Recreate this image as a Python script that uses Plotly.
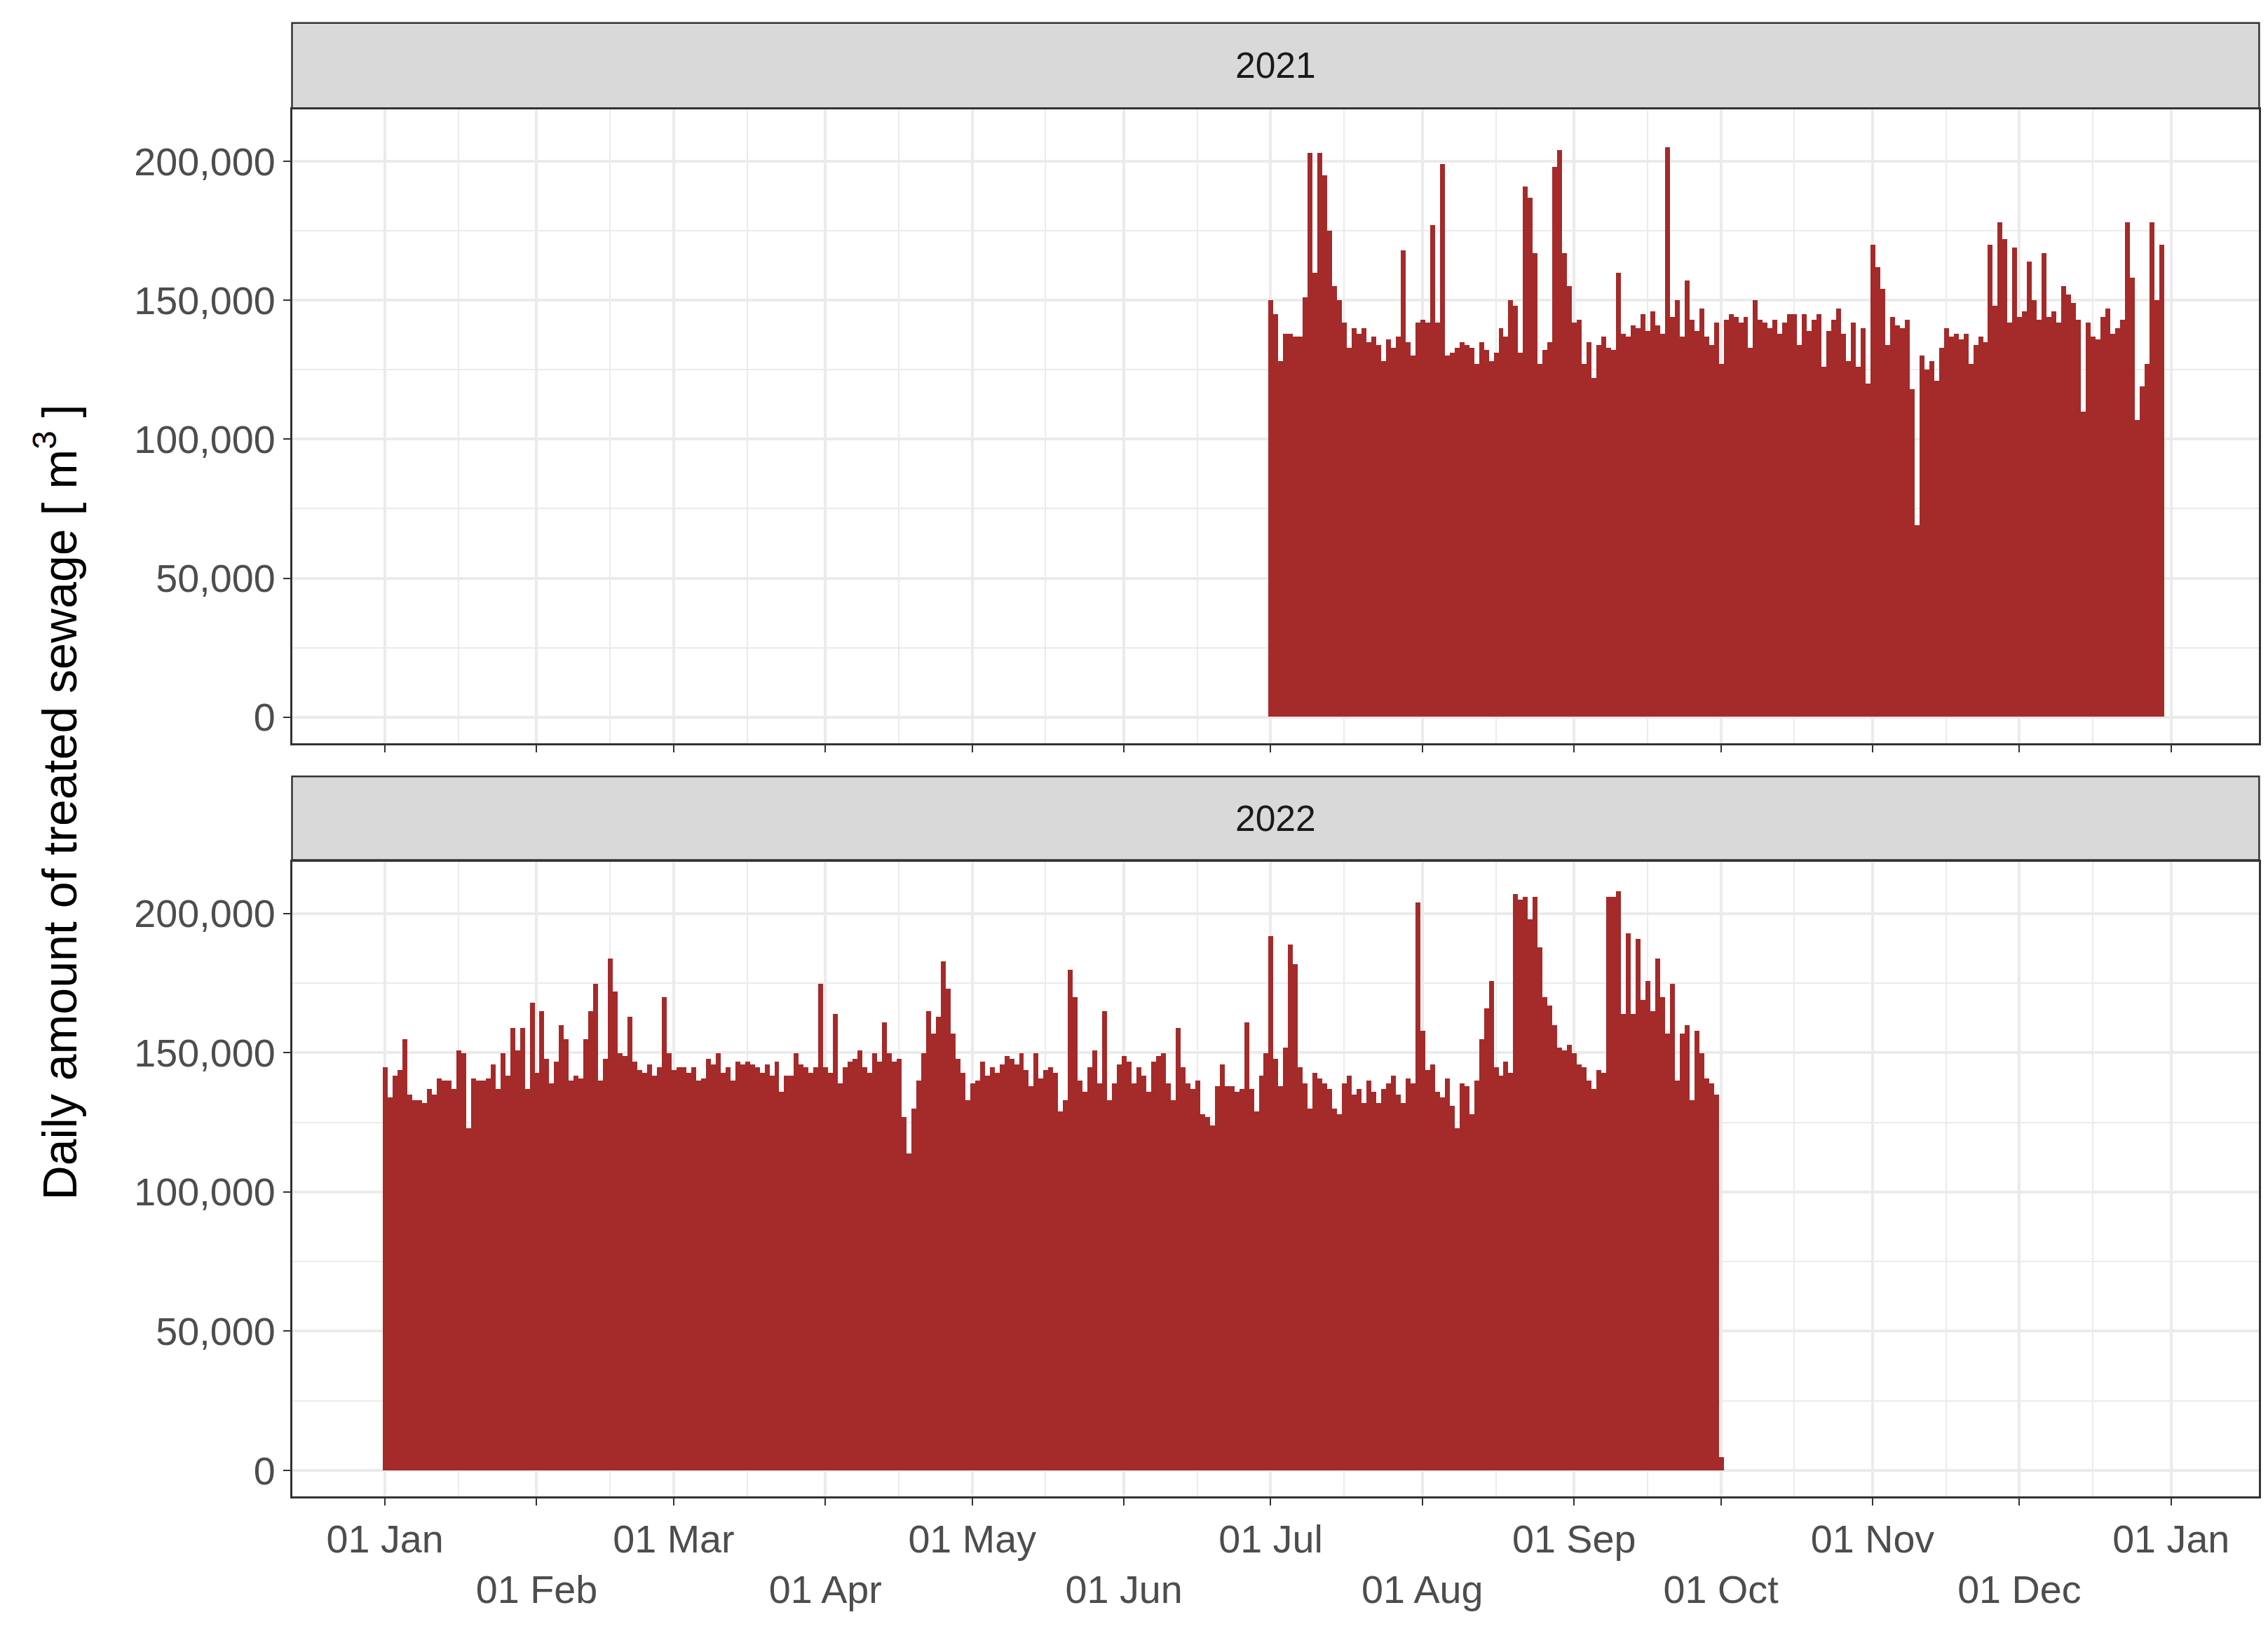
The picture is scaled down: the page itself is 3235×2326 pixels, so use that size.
import pandas as pd
import plotly.graph_objects as go
from plotly.subplots import make_subplots

vals_2021 = [150,145,128,138,138,137,137,151,203,160,203,195,175,155,150,142,133,140,138,140,135,137,134,128,136,133,137,168,135,130,
142,143,142,177,142,199,130,131,133,135,134,133,127,135,132,128,131,140,137,150,148,131,191,187,167,127,132,135,198,204,167,155,
142,143,127,135,122,134,137,133,132,160,138,137,141,140,145,139,146,141,138,205,144,150,137,157,143,139,147,137,134,142,
127,143,145,144,142,144,133,150,143,142,140,143,138,142,145,145,134,145,139,143,145,126,139,143,147,138,128,142,126,140,120,170,162,154,134,144,141,
140,143,118,69,130,125,128,121,133,140,137,138,136,138,127,134,137,135,170,148,178,172,142,169,144,146,164,150,143,
167,144,146,142,155,152,149,143,110,142,137,136,144,147,138,140,143,178,158,107,119,127,178,150,170]
vals_2022 = (
[145,134,142,144,155,135,133,133,132,137,135,141,140,140,137,151,150,123,141,140,140,141,146,137,150,142,159,151,159,137,168]
+[143,165,148,139,147,160,155,140,142,141,155,165,175,140,148,184,172,150,149,163,147,144,143,146,142,145,170,150]
+[144,145,145,143,145,140,141,148,146,150,143,145,140,147,146,147,146,145,143,146,142,147,136,142,142,150,146,145,143,145,175]
+[145,143,164,139,145,147,148,151,145,143,150,147,161,150,147,148]
+[127,114,130]
+[140,150,165,157,163,183,173,157,148,143,133,139,140,147,142,145,143,146,149,148,146,150,144,138,150,141,144,145,143,129,133]
+[180,170,140,136,145,151,139,165,133,139,146,149,147,139,145,142,136,147,149,150,139,133,159,145,139,137,140,128,127,124,138,146,138,138,136,137,161,137,129,142,150]
+[192,148,138,152,189,182]
+[145,139,130,143,141,139,137,130,128,139,142,135,137,132,140,136,132,137,139,142,135,132,141,139]
+[204,158,144,146,136,134,141,131,123,139,138,128,140,155,166,176,145,142,147,143]
+[207,205,206,198,206,188,170,167,160,152,151,153,150,146,145,140,137,144,143]
+[206,206,208,164,193,164,191,169,176,165,184,170,157,175,140,157,160,133,158,150,141,139,135]
+[5])
vals_2021 = [v*1000 for v in vals_2021]
vals_2022 = [v*1000 for v in vals_2022]
x21 = pd.date_range("2021-07-01", periods=len(vals_2021), freq="D")
x22 = pd.date_range("2021-01-01", periods=len(vals_2022), freq="D")

month_ticks = pd.date_range("2021-01-01", "2022-01-01", freq="MS")
tick_text = [("" if i % 2 == 0 else "<br>") + d.strftime("%d %b") for i, d in enumerate(month_ticks)]
minor_ticks = [d + pd.Timedelta(days=15) for d in month_ticks[:-1]]

S = 2.063
FONT = "Liberation Sans, Arial"
RED = "#A52A2A"

fig = make_subplots(rows=2, cols=1, shared_xaxes=True)
fig.add_trace(go.Bar(x=x21, y=vals_2021, marker_color=RED, marker_line_width=0, width=86400000), 1, 1)
fig.add_trace(go.Bar(x=x22, y=vals_2022, marker_color=RED, marker_line_width=0, width=86400000), 2, 1)

xd = [198/1568, 1558/1568]
fig.update_layout(width=3235, height=2326, margin=dict(l=0, r=0, t=0, b=0),
                  plot_bgcolor="white", paper_bgcolor="white", showlegend=False, bargap=0,
                  font=dict(family=FONT, size=27*S, color="#4D4D4D"))
for i, dom in [(1, [1-511/1130, 1-72/1130]), (2, [1-1033/1130, 1-593/1130])]:
    fig.update_yaxes(row=i, col=1, domain=dom, range=[-9400, 218700],
                     tickvals=[0, 50000, 100000, 150000, 200000], tickformat=",",
                     gridcolor="#EBEBEB", gridwidth=4, zeroline=False,
                     minor=dict(tickvals=[25000, 75000, 125000, 175000], showgrid=True, gridcolor="#EBEBEB", gridwidth=2),
                     ticks="outside", ticklen=10, tickwidth=2.3, tickcolor="#333333",
                     showline=True, mirror=True, linecolor="#333333", linewidth=2.5)
    fig.update_xaxes(row=i, col=1, domain=xd, range=["2020-12-13", "2022-01-19"],
                     tickvals=list(month_ticks), ticktext=tick_text, showticklabels=(i == 2),
                     gridcolor="#EBEBEB", gridwidth=4, zeroline=False,
                     minor=dict(tickvals=minor_ticks, showgrid=True, gridcolor="#EBEBEB", gridwidth=2),
                     ticks="outside", ticklen=10, tickwidth=2.3, tickcolor="#333333",
                     showline=True, mirror=True, linecolor="#333333", linewidth=2.5)

for (y0, y1, label) in [(1-71/1130, 1-12/1130, "2021"), (1-592/1130, 1-534/1130, "2022")]:
    fig.add_shape(type="rect", xref="paper", yref="paper", x0=xd[0], x1=xd[1], y0=y0, y1=y1,
                  fillcolor="#D9D9D9", line=dict(color="#333333", width=2.5), layer="below")
    fig.add_annotation(xref="paper", yref="paper", x=(xd[0]+xd[1])/2, y=(y0+y1)/2, text=label,
                       xanchor="center", yanchor="middle",
                       showarrow=False, font=dict(family=FONT, size=25*S, color="#1A1A1A"))

fig.add_annotation(xref="paper", yref="paper", x=35/1568, y=1-552/1130, textangle=-90,
                   xanchor="center", yanchor="middle",
                   text="Daily amount of treated sewage [ m<sup>3</sup> ]", showarrow=False,
                   font=dict(family=FONT, size=33*S, color="black"))

fig.write_html("out.html")
